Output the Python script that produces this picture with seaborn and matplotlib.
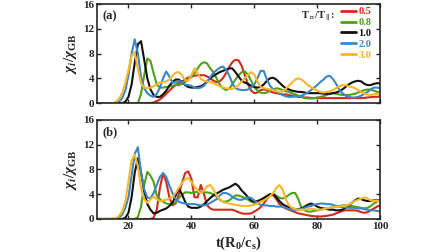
import numpy as np
import pandas as pd
import seaborn as sns
import matplotlib
matplotlib.use("Agg")
import matplotlib.pyplot as plt

t = np.arange(10, 101)
ratios = ['0.5', '0.8', '1.0', '2.0', '3.0']
colors = ['#d42a1e', '#4ea21a', '#111111', '#3a87c6', '#f8b62a']

# panel (a)
a_05 = [0, 0, 0, 0, 0, 0, 0, 0, 0, 0,
        0, 0, 0, 0, 0, 0, 0, 0, 0.1, 0.3,
        0.6, 1.0, 1.5, 2.0, 2.5, 2.9, 3.2, 3.5, 3.8, 4.1,
        4.3, 4.4, 4.5, 4.5, 4.5, 4.3, 4.0, 3.6, 3.4, 3.5,
        4.0, 4.8, 5.8, 6.6, 7.0, 6.9, 6.0, 4.5, 3.0, 2.0,
        1.6, 1.7, 2.1, 2.2, 2.1, 1.9, 1.7, 1.6, 1.5, 1.4,
        1.4, 1.3, 1.2, 1.1, 1.0, 1.0, 0.9, 0.9, 0.8, 0.8,
        0.8, 0.8, 0.8, 0.8, 0.8, 0.8, 0.8, 0.8, 0.8, 0.8,
        0.8, 0.8, 0.8, 0.8, 0.8, 0.85, 0.9, 0.95, 1.0, 1.0,
        1.1]
a_08 = [0, 0, 0, 0, 0, 0, 0, 0, 0, 0,
        0, 0, 0, 0, 1.5, 4.5, 7.2, 6.8, 4.8, 3.0,
        2.5, 2.5, 2.6, 2.7, 2.8, 2.9, 2.9, 3.1, 3.4, 3.8,
        4.2, 4.8, 5.6, 6.3, 6.6, 6.4, 5.6, 5.0, 4.0, 3.0,
        2.4, 2.1, 2.3, 3.0, 3.8, 4.5, 5.0, 5.1, 4.6, 3.6,
        2.6, 2.0, 1.7, 1.6, 1.7, 2.0, 2.2, 2.4, 2.3, 2.1,
        1.9, 1.8, 1.6, 1.4, 1.2, 1.0, 0.8, 0.75, 0.75, 0.8,
        0.9, 1.0, 1.1, 1.3, 1.5, 1.6, 1.5, 1.4, 1.3, 1.3,
        1.3, 1.4, 1.5, 1.7, 1.9, 2.1, 2.2, 2.2, 2.0, 1.8,
        1.8]
a_10 = [0, 0, 0, 0, 0, 0, 0, 0, 0, 0.2,
        1.0, 3.0, 6.5, 9.5, 10.0, 7.0, 4.0, 2.2, 1.3, 1.0,
        1.0, 1.4, 2.0, 2.8, 3.4, 3.8, 3.8, 3.4, 2.9, 2.6,
        2.5, 2.5, 2.6, 2.7, 3.0, 3.5, 4.0, 4.4, 4.7, 5.0,
        5.2, 5.4, 5.6, 5.6, 5.0, 4.3, 3.6, 3.3, 3.1, 2.8,
        2.6, 2.5, 2.6, 3.0, 3.6, 4.0, 4.1, 3.8, 3.3, 2.8,
        2.4, 2.2, 2.0, 1.9, 1.8, 1.8, 1.7, 1.6, 1.6, 1.6,
        1.6, 1.6, 1.5, 1.5, 1.5, 1.6, 1.7, 1.9, 2.2, 2.6,
        3.0, 3.3, 3.5, 3.6, 3.5, 3.1, 2.9, 2.9, 3.1, 3.2,
        3.2]
a_20 = [0, 0, 0, 0, 0, 0, 0, 0.2, 0.8, 2.0,
        4.5, 8.0, 10.3, 8.0, 4.2, 2.4, 1.6, 1.2, 1.0, 1.5,
        2.5, 4.0, 5.1, 4.3, 3.3, 3.3, 3.6, 3.4, 3.0, 2.9,
        2.8, 2.5, 2.4, 2.5, 2.8, 3.4, 4.2, 4.9, 5.3, 5.7,
        5.9, 5.4, 4.5, 3.2, 2.4, 2.2, 2.1, 2.1, 2.2, 2.5,
        3.0, 4.0, 5.2, 5.2, 3.8, 2.8, 2.2, 1.9, 1.6, 1.3,
        1.1, 1.0, 1.0, 1.1, 1.1, 1.2, 1.4, 1.7, 2.1, 2.5,
        2.9, 3.4, 3.8, 4.3, 4.4, 3.9, 3.1, 2.2, 1.6, 1.2,
        1.0, 0.9, 0.9, 1.0, 1.2, 1.5, 1.8, 2.2, 2.5, 2.5,
        2.4]
a_30 = [0, 0, 0, 0, 0, 0, 0.2, 0.7, 1.6, 3.2,
        5.3, 7.7, 8.2, 5.5, 3.2, 2.5, 2.4, 2.5, 2.7, 3.0,
        3.3, 3.4, 3.5, 3.8, 4.4, 4.9, 5.0, 4.5, 3.7, 3.6,
        4.5, 5.6, 4.8, 3.9, 3.6, 3.5, 3.4, 3.2, 3.0, 2.7,
        2.5, 2.4, 2.3, 2.3, 2.5, 2.9, 3.5, 4.0, 4.6, 5.0,
        4.6, 3.5, 2.6, 2.4, 2.3, 2.2, 2.1, 1.9, 1.8, 1.9,
        2.3, 2.8, 3.3, 3.8, 4.0, 3.8, 3.4, 2.9, 2.6, 2.3,
        2.0, 1.8, 1.7, 1.8, 1.9, 2.1, 2.4, 2.7, 2.9, 2.9,
        2.7, 2.6, 2.4, 2.1, 1.8, 1.5, 1.4, 1.3, 1.4, 1.5,
        1.5]

# panel (b)
b_05 = [0, 0, 0, 0, 0, 0, 0, 0, 0, 0,
        0, 0, 0, 0, 0, 0, 0, 0, 0.2, 1.5,
        5.0, 7.4, 6.0, 3.5, 2.2, 2.5, 4.0, 5.8, 7.4, 7.7,
        6.5, 3.5, 3.5, 5.5, 4.0, 2.2, 1.7, 1.5, 1.5, 1.5,
        1.5, 1.5, 1.5, 1.5, 1.3, 1.1, 0.9, 0.85, 0.85, 0.9,
        1.2, 1.5, 1.9, 2.5, 3.2, 3.8, 3.9, 3.2, 2.4, 2.0,
        1.7, 1.5, 1.3, 1.1, 0.9, 0.8, 0.7, 0.6, 0.5, 0.45,
        0.4, 0.4, 0.45, 0.5, 0.6, 0.7, 0.9, 1.1, 1.3, 1.4,
        1.4, 1.4, 1.4, 1.3, 1.1, 1.0, 1.1, 1.4, 1.7, 2.0,
        2.2]
b_08 = [0, 0, 0, 0, 0, 0, 0, 0, 0, 0,
        0, 0, 0, 0.3, 2.0, 5.5, 7.6, 7.0, 6.0, 3.8,
        3.2, 2.8, 2.5, 2.4, 2.4, 2.7, 3.4, 3.9, 4.3, 4.3,
        4.2, 4.3, 4.4, 4.4, 4.3, 4.3, 4.2, 4.0, 3.6, 3.1,
        2.8, 2.8, 3.0, 3.4, 3.8, 3.8, 3.6, 3.4, 3.1, 2.8,
        2.6, 2.7, 3.0, 3.3, 3.7, 4.0, 4.1, 3.8, 3.4, 3.3,
        3.5, 3.9, 4.2, 4.2, 3.2, 1.8, 1.4, 1.2, 1.2, 1.3,
        1.4, 1.5, 1.6, 1.7, 1.8, 1.9, 2.0, 2.1, 2.2, 2.2,
        2.1, 2.1, 2.0, 1.9, 1.8, 1.7, 1.8, 2.1, 2.5, 2.8,
        3.0]
b_10 = [0, 0, 0, 0, 0, 0, 0, 0, 0, 0.2,
        1.0, 3.5, 7.5, 9.8, 7.5, 4.5, 2.4, 1.5, 0.9, 1.0,
        1.3, 1.5, 1.7, 2.1, 2.6, 3.8, 4.9, 4.0, 2.8, 2.0,
        1.8, 1.8, 1.8, 2.0, 2.4, 2.9, 3.4, 3.8, 4.1, 4.4,
        4.7, 4.9, 5.1, 5.4, 5.7, 5.3, 4.6, 4.1, 3.5, 3.0,
        2.8, 2.9, 3.1, 3.4, 3.7, 4.0, 4.0, 3.5, 2.9, 2.4,
        2.1, 1.9, 1.7, 1.6, 1.6, 1.7, 2.0, 2.3, 2.5, 2.3,
        2.0, 1.8, 1.7, 1.6, 1.5, 1.5, 1.4, 1.4, 1.5, 1.8,
        2.2, 2.6, 3.0, 3.3, 3.2, 3.0, 2.9, 2.9, 3.0, 3.0,
        3.0]
b_20 = [0, 0, 0, 0, 0, 0, 0, 0.2, 0.7, 1.8,
        3.5, 7.0, 10.5, 11.6, 7.5, 4.8, 3.5, 3.3, 4.2, 5.5,
        6.8, 7.4, 6.8, 5.4, 4.2, 3.2, 2.8, 2.6, 2.5, 2.4,
        2.4, 2.4, 2.3, 2.2, 2.2, 2.3, 2.6, 2.9, 3.2, 3.8,
        4.2, 4.2, 4.0, 3.6, 3.3, 3.1, 3.1, 3.3, 3.5, 3.4,
        3.0, 2.6, 2.3, 2.2, 2.2, 2.1, 2.1, 2.0, 2.0, 2.0,
        1.8, 1.6, 1.5, 1.5, 1.5, 1.6, 1.8, 2.0, 2.1, 2.3,
        2.4, 2.5, 2.5, 2.4, 2.4, 2.3, 2.1, 2.0, 1.9, 1.9,
        1.8, 1.8, 1.8, 1.7, 1.7, 1.6, 1.5, 1.4, 1.4, 1.3,
        1.2]
b_30 = [0, 0, 0, 0, 0, 0, 0.1, 0.5, 1.2, 2.8,
        6.0, 9.5, 10.4, 8.5, 5.0, 3.2, 2.6, 3.2, 3.6, 3.2,
        2.9, 3.0, 3.1, 3.3, 3.6, 4.2, 5.0, 5.8, 6.4, 6.6,
        6.0, 5.2, 4.6, 4.2, 4.6, 5.3, 5.5, 4.8, 3.8, 3.2,
        2.8, 2.6, 2.5, 2.4, 2.3, 2.2, 2.1, 2.1, 2.1, 2.2,
        2.3, 2.5, 2.8, 3.0, 3.3, 3.7, 4.2, 5.0, 5.5, 4.8,
        3.2, 2.2, 1.8, 1.6, 1.5, 1.5, 1.5, 1.6, 1.7, 1.6,
        1.5, 1.5, 1.6, 1.7, 1.8, 1.9, 2.0, 2.0, 2.1, 2.1,
        2.3, 2.6, 2.9, 3.1, 3.3, 3.5, 3.3, 3.0, 2.9, 2.9,
        2.9]

panels = {'a': [a_05, a_08, a_10, a_20, a_30],
          'b': [b_05, b_08, b_10, b_20, b_30]}

sns.set_style('ticks')
plt.rcParams['font.family'] = ['Liberation Serif', 'DejaVu Sans']
plt.rcParams['font.weight'] = 'bold'
plt.rcParams['mathtext.fontset'] = 'custom'
plt.rcParams['mathtext.rm'] = 'Liberation Serif:bold'
plt.rcParams['mathtext.it'] = 'Liberation Serif:italic:bold'
plt.rcParams['mathtext.bf'] = 'Liberation Serif:bold'

fig = plt.figure(figsize=(4.48, 2.52), dpi=100)
ax_a = fig.add_axes([0.2165, 0.591, 0.632, 0.393])
ax_b = fig.add_axes([0.2165, 0.131, 0.632, 0.393])

for key, ax in zip(['a', 'b'], [ax_a, ax_b]):
    rows = []
    for r, vals in zip(ratios, panels[key]):
        rows.append(pd.DataFrame({'t': t, 'chi': vals, 'ratio': r}))
    df = pd.concat(rows)
    sns.lineplot(data=df, x='t', y='chi', hue='ratio', palette=colors,
                 hue_order=ratios, linewidth=1.5, ax=ax, legend=(key == 'a'))
    ax.set_xlim(10, 100)
    ax.set_ylim(0, 16)
    ax.set_yticks([0, 4, 8, 12, 16])
    ax.set_xticks([20, 40, 60, 80, 100])
    ax.tick_params(direction='in', top=True, right=True, labelsize=8,
                   length=3, width=1, pad=2)
    for s in ax.spines.values():
        s.set_linewidth(1.2)
    ax.set_ylabel(r'$\chi_i/\chi_{\mathrm{GB}}$', fontsize=11, labelpad=3)
    ax.set_xlabel('')
    ax.text(0.02, 0.94, '(' + key + ')', transform=ax.transAxes,
            fontsize=9, fontweight='bold', va='top')

ax_a.tick_params(labelbottom=False)
ax_b.set_xlabel(r't(R$_0$/c$_\mathrm{s}$)', fontsize=10.5, fontweight='bold', labelpad=3)

leg = ax_a.legend(loc='upper right', bbox_to_anchor=(0.97, 0.97), frameon=False,
                  fontsize=7.5, handlelength=1.4, handletextpad=0.3,
                  labelspacing=0.15, borderpad=0, borderaxespad=0,
                  labelcolor='linecolor')
for line in leg.get_lines():
    line.set_linewidth(2)
ax_a.text(0.72, 0.88, r'T$_\perp$/T$_\parallel$:', transform=ax_a.transAxes,
          fontsize=7.5, fontweight='bold', va='center')

fig.savefig('out.png', dpi=100)
